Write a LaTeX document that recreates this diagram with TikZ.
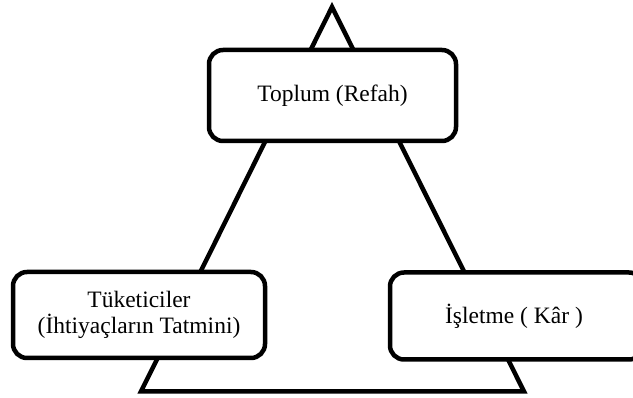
\documentclass[tikz,border=0pt]{standalone}
\usepackage{fontspec}
\setmainfont{Liberation Serif}
\begin{document}
\begin{tikzpicture}[x=1pt, y=1pt, line width=4.5pt,
    kutu/.style={draw, fill=white, rounded corners=14pt, align=center, inner sep=0pt,
                 font=\fontsize{23.5}{26.5}\selectfont}]
  \useasboundingbox (0,0) rectangle (633,398);
  % ucgen
  \coordinate (tepe)   at (332,391);
  \coordinate (solalt) at (141,6.5);
  \coordinate (sagalt) at (524,6.5);
  \draw[line join=miter] (tepe) -- (solalt) -- (sagalt) -- cycle;
  % kutular
  \node[kutu, minimum width=247pt, minimum height=91pt] (toplum)   at (332.5,302.5) {Toplum (Refah)};
  \node[kutu, minimum width=252pt, minimum height=86pt] (tuketici) at (139,83) {Tüketiciler\\(İhtiyaçların Tatmini)};
  \node[kutu, minimum width=253pt, minimum height=87pt] (isletme)  at (516.5,82) {\hspace*{-5pt}İşletme ( Kâr )};
\end{tikzpicture}
\end{document}
